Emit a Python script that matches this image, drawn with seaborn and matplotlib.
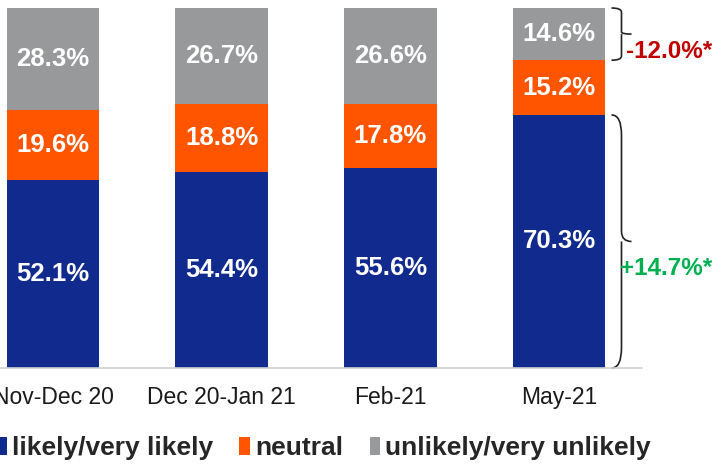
import matplotlib
matplotlib.use("Agg")
import matplotlib.pyplot as plt
import seaborn as sns
import pandas as pd
import numpy as np
from matplotlib.path import Path
from matplotlib.patches import PathPatch, Patch

categories = ["Nov-Dec 20", "Dec 20-Jan 21", "Feb-21", "May-21"]
likely = [52.1, 54.4, 55.6, 70.3]
neutral = [19.6, 18.8, 17.8, 15.2]
unlikely = [28.3, 26.7, 26.6, 14.6]
series_names = ["likely/very likely", "neutral", "unlikely/very unlikely"]
colors = ["#112A8E", "#FF5500", "#98999B"]
change_labels = ["-12.0%*", "+14.7%*"]
change_colors = ["#C00000", "#00B050"]

sns.set_theme(style="white")
plt.rcParams["font.family"] = ["Liberation Sans", "DejaVu Sans"]

W, H = 713, 465
fig = plt.figure(figsize=(W / 100, H / 100), dpi=100)
ax = fig.add_axes([0, 1 - 368 / H, 642 / W, (368 - 8) / H])

df = pd.DataFrame({"cat": categories, "likely": likely, "neutral": neutral, "unlikely": unlikely})
df["c1"] = df["likely"]
df["c2"] = df["likely"] + df["neutral"]
df["c3"] = df["c2"] + df["unlikely"]

bw = 0.55
for col, colr in zip(["c3", "c2", "c1"], colors[::-1]):
    sns.barplot(data=df, x="cat", y=col, order=categories, color=colr,
                width=bw, saturation=1, linewidth=0, ax=ax)

# segment labels
for i in range(len(categories)):
    bottoms = [0, likely[i], likely[i] + neutral[i]]
    for b, v in zip(bottoms, [likely[i], neutral[i], unlikely[i]]):
        ax.text(i, b + v / 2, f"{v:.1f}%", ha="center", va="center",
                color="white", fontsize=18.5, fontweight="bold")

px_per_x = 168.7
x0 = -53 / px_per_x
ax.set_xlim(x0, x0 + 642 / px_per_x)
ax.set_ylim(0, 100)
ax.set_xlabel("")
ax.set_ylabel("")
ax.set_yticks([])
ax.tick_params(axis="x", length=0, pad=13, labelsize=16.5, labelcolor="#1a1a1a")
for s in ["top", "left", "right"]:
    ax.spines[s].set_visible(False)
ax.spines["bottom"].set_color("#D0D0D0")
ax.spines["bottom"].set_linewidth(1.2)
ax.grid(False)


def brace(ax, x, y0, y1, depth, tip):
    # x: left x of brace; y0 bottom, y1 top (data units)
    ym = (y0 + y1) / 2
    r = (y1 - y0) * 0.04
    xr = x + depth
    verts = [
        (x, y1), (xr, y1), (xr, y1 - r * 2),
        (xr, ym + r), (xr, ym), (xr + tip, ym),
        (xr, ym), (xr, ym - r),
        (xr, y0 + r * 2), (xr, y0), (x, y0),
    ]
    codes = [Path.MOVETO, Path.CURVE3, Path.CURVE3,
             Path.LINETO, Path.CURVE3, Path.CURVE3,
             Path.MOVETO, Path.CURVE3,
             Path.LINETO, Path.CURVE3, Path.CURVE3]
    p = PathPatch(Path(verts, codes), fill=False, edgecolor="#222222",
                  linewidth=1.2, clip_on=False)
    ax.add_patch(p)
    return xr + tip


last = len(categories) - 1
bx = last + bw / 2 + 6 / px_per_x
d = 10 / px_per_x
t = 10 / px_per_x
top_lo = likely[last] + neutral[last]
top_hi = top_lo + unlikely[last]
brace(ax, bx, top_lo, min(top_hi, 100), d, t)
brace(ax, bx, 0, likely[last], d, t)

ax.text(last + bw / 2 + 21 / px_per_x, top_lo + 2.3, change_labels[0], color=change_colors[0],
        fontsize=17.5, fontweight="bold", ha="left", va="center", clip_on=False)
ax.text(last + bw / 2 + 15 / px_per_x, likely[last] / 2 - 7.4, change_labels[1], color=change_colors[1],
        fontsize=17.5, fontweight="bold", ha="left", va="center", clip_on=False)

handles = [Patch(facecolor=c, edgecolor="none") for c in colors]
leg = fig.legend(handles, series_names, loc="center left",
                 bbox_to_anchor=(-4 / W, 1 - 448 / H), ncol=3, frameon=False,
                 prop={"size": 19, "weight": "bold"}, handlelength=0.4, handleheight=0.7,
                 handletextpad=0.2, columnspacing=1.0, borderpad=0, borderaxespad=0)

fig.savefig("out.png", dpi=100)
